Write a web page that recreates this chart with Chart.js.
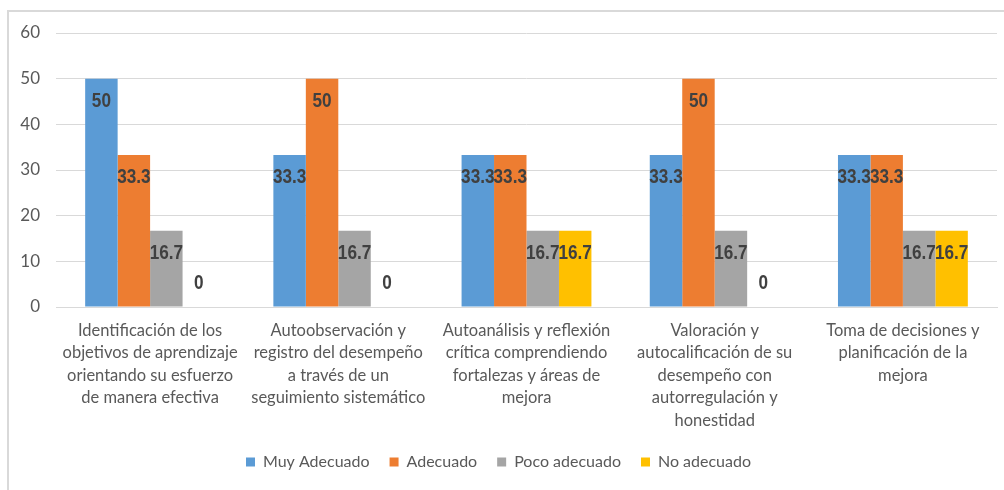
<!DOCTYPE html>
<html>
<head>
<meta charset="utf-8">
<script src="https://cdn.jsdelivr.net/npm/chart.js@4"></script>
<style>
    body { margin: 0; background: #fff; }
    #wrap { position: relative; width: 1004px; height: 490px; overflow: hidden; }
    #frame { position: absolute; left: 7px; top: 10px; width: 1100px; height: 600px;
             border-left: 2px solid #d9d9d9; border-top: 2px solid #d9d9d9; }
    canvas { position: absolute; left: 0; top: 0; }
</style>
</head>
<body>
<div id="wrap">
    <div id="frame"></div>
    <canvas id="chart" width="1004" height="490"></canvas>
</div>
<script>
const categories = [
    ['Identificación de los', 'objetivos de aprendizaje', 'orientando su esfuerzo', 'de manera efectiva'],
    ['Autoobservación y', 'registro del desempeño', 'a través de un', 'seguimiento sistemático'],
    ['Autoanálisis y reflexión', 'crítica comprendiendo', 'fortalezas y áreas de', 'mejora'],
    ['Valoración y', 'autocalificación de su', 'desempeño con', 'autorregulación y', 'honestidad'],
    ['Toma de decisiones y', 'planificación de la', 'mejora']
];

const muyAdecuado = [50, 33.3, 33.3, 33.3, 33.3];
const adecuado = [33.3, 50, 33.3, 50, 33.3];
const pocoAdecuado = [16.7, 16.7, 16.7, 16.7, 16.7];
const noAdecuado = [0, 0, 16.7, 0, 16.7];

const seriesNames = ['Muy Adecuado', 'Adecuado', 'Poco adecuado', 'No adecuado'];
const seriesColors = ['#5B9BD5', '#ED7D31', '#A5A5A5', '#FFC000'];
const yTicks = [0, 10, 20, 30, 40, 50, 60];

const labelFont = "'Lato', 'Open Sans', sans-serif";

// value labels drawn inside the bar tops, squeezed a bit to look like a narrow font
const valueLabels = {
    id: 'valueLabels',
    afterDatasetsDraw(chart) {
        const ctx = chart.ctx;
        ctx.save();
        ctx.font = "bold 19.5px 'Liberation Sans', Arial, sans-serif";
        ctx.fillStyle = '#404040';
        ctx.textAlign = 'center';
        ctx.textBaseline = 'middle';
        chart.data.datasets.forEach((ds, i) => {
            const meta = chart.getDatasetMeta(i);
            meta.data.forEach((bar, j) => {
                const v = ds.data[j];
                const y = v === 0 ? bar.y - 23 : bar.y + 23;
                ctx.save();
                ctx.translate(bar.x, y);
                ctx.scale(0.88, 1);
                ctx.fillText(String(v), 0, 0);
                ctx.restore();
            });
        });
        ctx.restore();
    }
};

const allSeries = [muyAdecuado, adecuado, pocoAdecuado, noAdecuado];

new Chart(document.getElementById('chart'), {
    type: 'bar',
    data: {
        labels: categories,
        datasets: allSeries.map((data, i) => ({
            label: seriesNames[i],
            data: data,
            backgroundColor: seriesColors[i],
            borderWidth: 0,
            categoryPercentage: 0.69,
            barPercentage: 1
        }))
    },
    options: {
        responsive: false,
        animation: false,
        layout: { padding: { top: 33, right: 7, bottom: 10, left: 0 } },
        plugins: {
            tooltip: { enabled: false },
            legend: {
                position: 'bottom',
                labels: {
                    boxWidth: 9,
                    boxHeight: 9,
                    padding: 20,
                    color: '#595959',
                    font: { family: labelFont, size: 16 }
                }
            }
        },
        scales: {
            x: {
                grid: { display: false },
                border: { color: '#d9d9d9', width: 1 },
                ticks: {
                    color: '#595959',
                    font: { family: labelFont, size: 16.5, lineHeight: 1.37 },
                    maxRotation: 0,
                    autoSkip: false,
                    padding: 4
                },
                afterFit(scale) { scale.height = 127; }
            },
            y: {
                min: 0,
                max: 60,
                afterBuildTicks(scale) { scale.ticks = yTicks.map(v => ({ value: v })); },
                grid: { color: '#d9d9d9', lineWidth: 1, drawTicks: false },
                border: { display: false },
                ticks: {
                    color: '#595959',
                    font: { family: labelFont, size: 17 },
                    padding: 16
                },
                afterFit(scale) { scale.width = 56; }
            }
        }
    },
    plugins: [valueLabels]
});
</script>
</body>
</html>
